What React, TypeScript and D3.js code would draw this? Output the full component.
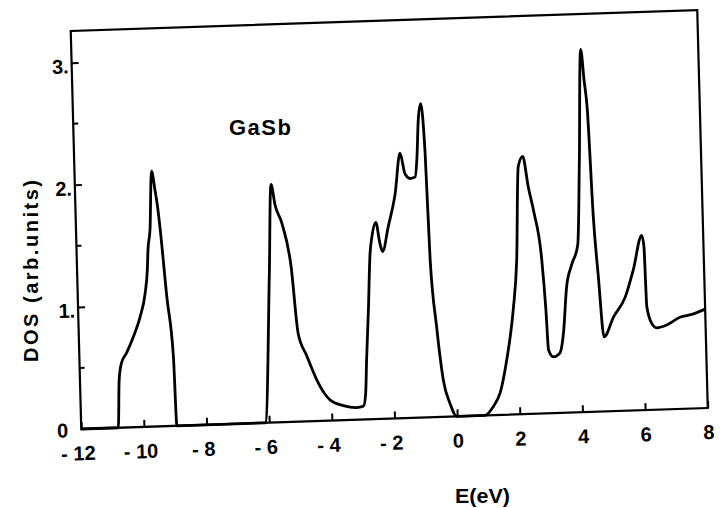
import React, { useRef, useEffect } from "react";
import * as d3 from "d3";

// DOS curve of GaSb
const energy = [
  -12.0, -10.82, -10.75, -10.66, -10.49, -10.26, -10.03, -9.85, -9.76, -9.72, -9.64,
  -9.54, -9.45, -9.38, -9.32, -9.16, -9.0, -8.95, -6.13, -5.87, -5.74, -5.63, -5.43,
  -5.17, -5.0, -4.75, -4.45, -4.2, -4.04, -3.62, -3.2, -2.98, -2.9, -2.84, -2.74, -2.64,
  -2.57, -2.43, -2.32, -2.24, -2.04, -1.79, -1.6, -1.46, -1.3, -1.14, -1.07, -0.99, -0.9,
  -0.8, -0.73, -0.58, -0.41, -0.22, -0.01, 0.89, 1.16, 1.39, 1.63, 1.88, 2.03, 2.16, 2.31,
  2.46, 2.62, 2.83, 2.92, 2.97, 3.12, 3.33, 3.46, 3.6, 3.78, 3.99, 4.11, 4.25, 4.33, 4.41,
  4.51, 4.62, 4.75, 5.07, 5.46, 5.74, 6.04, 6.1, 6.14, 6.28, 6.44, 6.76, 7.19, 7.57, 8.0,
];
const dos = [
  0, 0, 0.39, 0.53, 0.61, 0.74, 0.9, 1.09, 1.28, 1.45, 1.61,
  2.09, 1.94, 1.8, 1.63, 1.06, 0.57, 0, 0, 1.22, 1.95, 1.78, 1.63,
  1.27, 0.72, 0.54, 0.34, 0.22, 0.17, 0.12, 0.1, 0.11, 0.21, 0.49, 0.9, 1.36,
  1.49, 1.61, 1.44, 1.37, 1.57, 1.84, 2.17, 2.0, 1.96, 1.97, 2.11, 2.44, 2.57,
  2.16, 1.29, 0.74, 0.3, 0.11, 0, 0, 0.07, 0.18, 0.45, 0.86, 1.26, 2.03, 2.11,
  1.86, 1.65, 1.26, 0.85, 0.52, 0.46, 0.49, 0.65, 1.03, 1.21, 1.37, 2.04, 2.97, 2.72, 2.47,
  1.6, 1.11, 0.61, 0.77, 0.93, 1.15, 1.43, 1.34, 0.85, 0.71, 0.67, 0.69, 0.75, 0.77, 0.81,
];

const xTicks = [-12, -10, -8, -6, -4, -2, 0, 2, 4, 6, 8];
const xTickLabels = ["- 12", "- 10", "- 8", "- 6", "- 4", "- 2", "0", "2", "4", "6", "8"];
const yMajorTicks = [1, 2, 3];
const yTickLabels = ["1.", "2.", "3."];
const yMinorTicks = [0.5, 1.5, 2.5];

const FONT = "'Liberation Sans', Arial, Helvetica, sans-serif";

const App = () => {
  const svgRef = useRef<SVGSVGElement>(null);

  useEffect(() => {
    const plotW = 626.5;
    const plotH = 398;

    const svg = d3.select(svgRef.current);
    svg.selectAll("*").remove();

    const x = d3.scaleLinear().domain([-12, 8]).range([0, plotW]);
    const y = d3.scaleLinear().domain([0, 3.26]).range([plotH, 0]);

    // the scanned page sits a little crooked, so tilt the whole plot
    const g = svg
      .append("g")
      .attr("transform", "matrix(1,-0.0335,0.0264,1,70.75,31)");

    // frame
    g.append("rect")
      .attr("x", 0)
      .attr("y", 0)
      .attr("width", plotW)
      .attr("height", plotH)
      .attr("fill", "none")
      .attr("stroke", "#000")
      .attr("stroke-width", 2.2);

    // x axis
    const xAxis = g
      .append("g")
      .attr("transform", `translate(0,${plotH})`)
      .call(
        d3
          .axisBottom(x)
          .tickValues(xTicks)
          .tickSizeInner(-7)
          .tickSizeOuter(0)
          .tickPadding(17)
          .tickFormat((d, i) => xTickLabels[i])
      );
    xAxis.select(".domain").remove();
    xAxis.selectAll("line").attr("stroke", "#000").attr("stroke-width", 2);
    xAxis
      .selectAll("text")
      .attr("font-family", FONT)
      .attr("font-size", 20)
      .attr("font-weight", "bold")
      .attr("fill", "#000")
      .attr("dx", (d: any) => (d < 0 ? -4 : 0));

    // y axis
    const yAxis = g
      .append("g")
      .call(
        d3
          .axisLeft(y)
          .tickValues(yMajorTicks)
          .tickSizeInner(-7)
          .tickSizeOuter(0)
          .tickPadding(3)
          .tickFormat((d, i) => yTickLabels[i])
      );
    yAxis.select(".domain").remove();
    yAxis.selectAll("line").attr("stroke", "#000").attr("stroke-width", 2);
    yAxis
      .selectAll("text")
      .attr("font-family", FONT)
      .attr("font-size", 20)
      .attr("font-weight", "bold")
      .attr("fill", "#000")
      .attr("dy", "0.5em");

    g.append("g")
      .selectAll("line")
      .data(yMinorTicks)
      .join("line")
      .attr("x1", 0)
      .attr("x2", 5)
      .attr("y1", (d) => y(d))
      .attr("y2", (d) => y(d))
      .attr("stroke", "#000")
      .attr("stroke-width", 2);

    g.append("text")
      .attr("x", -13)
      .attr("y", y(0) + 8)
      .attr("text-anchor", "end")
      .attr("font-family", FONT)
      .attr("font-size", 20)
      .attr("font-weight", "bold")
      .text("0");

    // DOS curve
    const line = d3
      .line<number>()
      .x((d, i) => x(energy[i]))
      .y((d) => y(d))
      .curve(d3.curveMonotoneX);

    g.append("path")
      .datum(dos)
      .attr("fill", "none")
      .attr("stroke", "#000")
      .attr("stroke-width", 2.8)
      .attr("stroke-linejoin", "round")
      .attr("d", line);

    // labels
    svg
      .append("text")
      .attr("x", 229)
      .attr("y", 135)
      .attr("font-family", FONT)
      .attr("font-size", 22)
      .attr("font-weight", "bold")
      .attr("textLength", 62)
      .attr("lengthAdjust", "spacing")
      .text("GaSb");

    svg
      .append("text")
      .attr("x", 455)
      .attr("y", 503)
      .attr("font-family", FONT)
      .attr("font-size", 20)
      .attr("font-weight", "bold")
      .attr("textLength", 55)
      .attr("lengthAdjust", "spacingAndGlyphs")
      .text("E(eV)");

    svg
      .append("text")
      .attr("transform", "translate(38,271) rotate(-90)")
      .attr("text-anchor", "middle")
      .attr("font-family", FONT)
      .attr("font-size", 20)
      .attr("font-weight", "bold")
      .attr("textLength", 182)
      .attr("lengthAdjust", "spacing")
      .text("DOS (arb.units)");
  }, []);

  return (
    <svg
      ref={svgRef}
      width={722}
      height={508}
      style={{ position: "absolute", left: 0, top: 0, background: "#fff" }}
    ></svg>
  );
};

export default App;
